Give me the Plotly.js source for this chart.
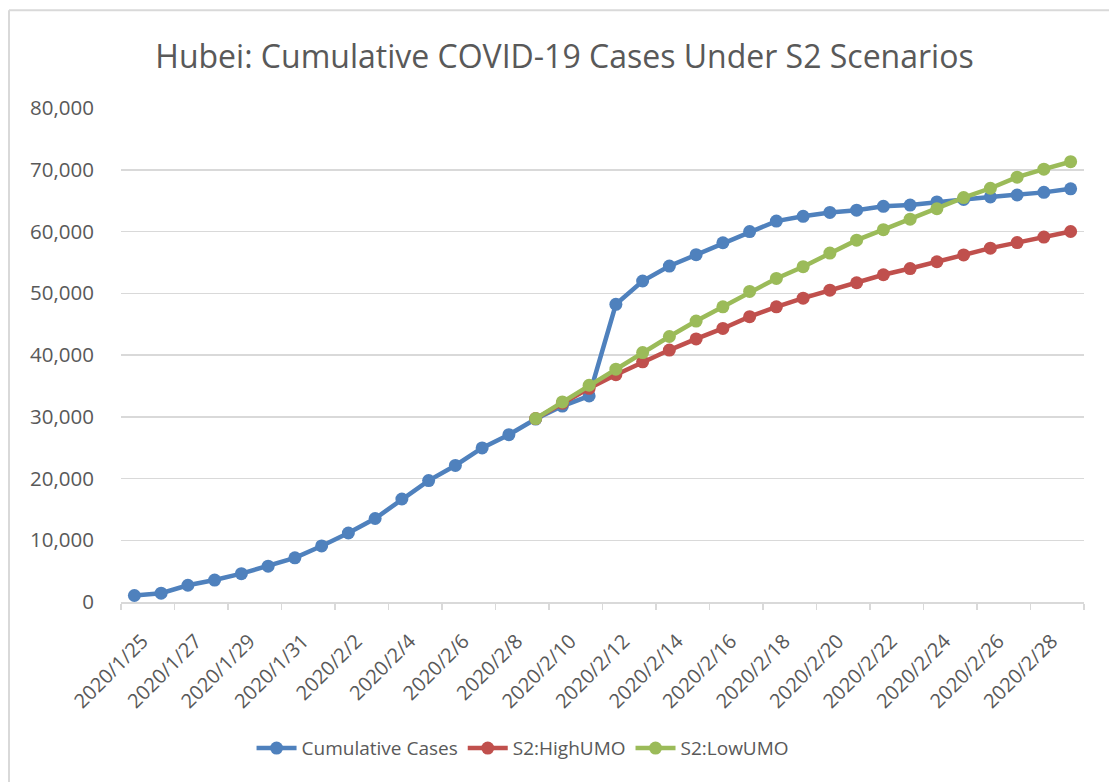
<!DOCTYPE html>
<html lang="en">
<head>
    <meta charset="UTF-8">
    <title>Hubei: Cumulative COVID-19 Cases Under S2 Scenarios</title>
    <script src="https://cdn.plot.ly/plotly-3.0.1.min.js"></script>
    <style>
        body { margin: 0; background: white; }
        #chart { width: 1109px; height: 782px; }
    </style>
</head>
<body>
    <div id="chart"></div>
    <script>
        // dates on the category axis
        const dates = [
            "2020/1/25", "2020/1/26", "2020/1/27", "2020/1/28", "2020/1/29", "2020/1/30", "2020/1/31",
            "2020/2/1", "2020/2/2", "2020/2/3", "2020/2/4", "2020/2/5", "2020/2/6", "2020/2/7",
            "2020/2/8", "2020/2/9", "2020/2/10", "2020/2/11", "2020/2/12", "2020/2/13", "2020/2/14",
            "2020/2/15", "2020/2/16", "2020/2/17", "2020/2/18", "2020/2/19", "2020/2/20", "2020/2/21",
            "2020/2/22", "2020/2/23", "2020/2/24", "2020/2/25", "2020/2/26", "2020/2/27", "2020/2/28",
            "2020/2/29"
        ];

        const cumulative = [
            1052, 1423, 2714, 3554, 4586, 5806, 7153, 9074, 11177, 13522, 16678, 19665,
            22112, 24953, 27100, 29631, 31728, 33366, 48206, 51986, 54406, 56249, 58182, 59989,
            61682, 62457, 63088, 63454, 64084, 64287, 64786, 65187, 65596, 65914, 66337, 66907
        ];

        // scenarios start on 2020/2/9 (index 15)
        const highUMO = [
            29700, 32200, 34600, 36800, 38900, 40800, 42600, 44300, 46200, 47800, 49200,
            50500, 51700, 53000, 54000, 55100, 56200, 57300, 58200, 59100, 60000
        ];
        const lowUMO = [
            29700, 32400, 35100, 37700, 40400, 43000, 45500, 47800, 50300, 52400, 54300,
            56500, 58600, 60300, 62000, 63700, 65500, 67000, 68800, 70100, 71300
        ];
        const scenarioDates = dates.slice(15);

        const grey = "#595959";
        const lineGrey = "#d9d9d9";

        function series(name, x, y, color) {
            return {
                x: x, y: y, name: name, type: "scatter", mode: "lines+markers",
                line: {color: color, width: 4.5},
                marker: {color: color, size: 13}
            };
        }

        const traces = [
            series("Cumulative Cases", dates, cumulative, "#4f81bd"),
            series("S2:HighUMO", scenarioDates, highUMO, "#c0504d"),
            series("S2:LowUMO", scenarioDates, lowUMO, "#9bbb59")
        ];

        const layout = {
            width: 1109, height: 782,
            margin: {l: 121, r: 25, t: 108, b: 180},
            paper_bgcolor: "white", plot_bgcolor: "white",
            font: {family: "Open Sans, sans-serif", color: grey},
            title: {
                text: "Hubei: Cumulative COVID-19 Cases Under S2 Scenarios",
                font: {size: 32, color: grey},
                x: 0.509, xanchor: "center", y: 0.927, yanchor: "middle"
            },
            xaxis: {
                type: "category", categoryorder: "array", categoryarray: dates,
                range: [-0.5, 35.5],
                tickson: "boundaries", dtick: 2, tickangle: -45,
                ticks: "outside", ticklen: 6, tickcolor: lineGrey, tickwidth: 1.5,
                ticklabelstandoff: 18, ticklabelshift: 8,
                showgrid: false, showline: true, linecolor: lineGrey, linewidth: 1.5,
                tickfont: {size: 20, color: grey}, fixedrange: true
            },
            yaxis: {
                range: [0, 80000], dtick: 10000, tickformat: ",d",
                showgrid: true, gridcolor: lineGrey, gridwidth: 1.5,
                zeroline: false, showline: false, ticks: "",
                ticklabelstandoff: 26,
                tickfont: {size: 20.5, color: grey}, fixedrange: true
            },
            legend: {
                orientation: "h", x: 0.4175, xanchor: "center", y: -0.296, yanchor: "middle",
                font: {size: 19, color: grey}, itemwidth: 40, traceorder: "normal"
            },
            shapes: [
                {type: "line", xref: "paper", yref: "paper", x0: -0.1163, x1: 1.2, y0: 1.198, y1: 1.198,
                 line: {color: lineGrey, width: 2}},
                {type: "line", xref: "paper", yref: "paper", x0: -0.1163, x1: -0.1163, y0: -0.5, y1: 1.198,
                 line: {color: lineGrey, width: 2}}
            ],
            showlegend: true
        };

        Plotly.newPlot("chart", traces, layout, {displayModeBar: false, staticPlot: true});
    </script>
</body>
</html>
